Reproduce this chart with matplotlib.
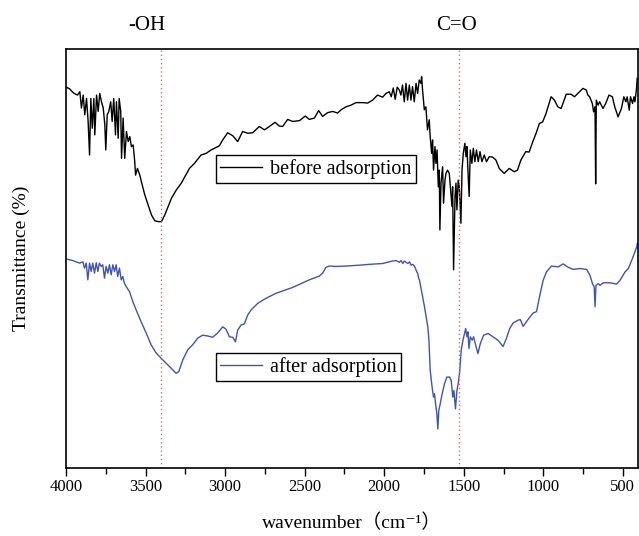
import matplotlib
matplotlib.use("Agg")
import matplotlib.pyplot as plt
from matplotlib.ticker import MultipleLocator, NullLocator

plt.rcParams['font.family'] = ['Liberation Serif', 'Noto Sans CJK SC', 'DejaVu Sans']

# ---- data (wavenumber in cm-1, transmittance in arbitrary %) ----
before_wn = [
    4000, 3978, 3953, 3928, 3913, 3903, 3892, 3882, 3871, 3861,
    3852, 3844, 3835, 3825, 3819, 3808, 3798, 3788, 3777, 3766,
    3756, 3750, 3741, 3731, 3719, 3710, 3700, 3689, 3683, 3672,
    3666, 3656, 3651, 3641, 3631, 3620, 3609, 3599, 3589, 3578,
    3568, 3563, 3551, 3536, 3526, 3505, 3484, 3463, 3442, 3421,
    3400, 3379, 3358, 3337, 3306, 3275, 3224, 3193, 3151, 3119,
    3088, 3036, 3015, 2984, 2952, 2921, 2890, 2858, 2827, 2785,
    2753, 2722, 2686, 2659, 2638, 2607, 2575, 2533, 2496, 2471,
    2439, 2412, 2387, 2356, 2324, 2293, 2271, 2240, 2209, 2177,
    2136, 2104, 2073, 2042, 2010, 1989, 1968, 1956, 1943, 1931,
    1918, 1905, 1895, 1885, 1874, 1863, 1853, 1842, 1832, 1822,
    1811, 1800, 1790, 1780, 1769, 1765, 1759, 1748, 1738, 1728,
    1717, 1711, 1702, 1696, 1690, 1681, 1675, 1668, 1660, 1654,
    1650, 1643, 1633, 1627, 1618, 1612, 1602, 1591, 1581, 1574,
    1570, 1564, 1555, 1549, 1543, 1535, 1528, 1518, 1511, 1503,
    1493, 1486, 1480, 1472, 1466, 1459, 1449, 1440, 1430, 1420,
    1409, 1398, 1386, 1371, 1357, 1340, 1319, 1298, 1277, 1246,
    1214, 1183, 1162, 1141, 1110, 1089, 1067, 1046, 1025, 1004,
    983, 951, 930, 909, 888, 873, 856, 825, 804, 783,
    751, 730, 720, 709, 692, 684, 675, 671, 667, 656,
    646, 625, 608, 587, 566, 551, 530, 509, 494, 481,
    473, 460, 452, 439, 430, 424, 414, 410,
]
before_T = [
    90.9, 90.5, 89.5, 89.0, 89.8, 85.9, 89.0, 84.3, 88.2, 82.7,
    74.7, 88.2, 81.1, 88.2, 79.5, 89.0, 85.1, 89.4, 87.4, 85.9,
    81.9, 75.9, 84.3, 85.1, 87.4, 82.7, 88.2, 79.5, 87.4, 78.7,
    88.2, 85.1, 73.9, 83.5, 73.9, 80.3, 77.9, 79.1, 76.7, 77.1,
    73.1, 69.9, 71.5, 69.9, 68.3, 65.2, 62.8, 60.4, 59.0, 58.8,
    58.8, 60.4, 62.4, 64.4, 66.4, 68.0, 71.5, 72.7, 74.7, 75.1,
    75.9, 76.9, 78.3, 80.0, 79.3, 77.9, 80.3, 79.9, 80.0, 81.5,
    80.7, 81.5, 82.5, 81.6, 81.5, 83.2, 82.7, 82.9, 84.0, 83.2,
    83.5, 85.3, 83.9, 84.8, 85.1, 84.7, 85.5, 86.2, 86.6, 87.2,
    87.2, 87.1, 87.8, 89.0, 88.5, 89.4, 89.8, 88.6, 90.7, 88.0,
    90.9, 90.2, 89.0, 91.4, 87.4, 91.8, 87.8, 91.4, 87.8, 91.0,
    87.4, 91.8, 89.4, 92.6, 91.8, 93.4, 90.2, 85.5, 86.2, 80.7,
    83.1, 79.1, 75.1, 78.3, 71.1, 76.7, 72.7, 75.9, 67.1, 71.1,
    56.8, 68.0, 71.9, 63.2, 68.7, 70.3, 71.1, 70.3, 65.6, 62.4,
    67.1, 47.3, 64.8, 68.0, 61.6, 68.7, 67.1, 58.4, 71.1, 75.1,
    77.5, 74.3, 76.7, 69.5, 64.8, 75.9, 72.7, 76.3, 73.1, 75.9,
    73.1, 75.5, 73.1, 74.7, 73.1, 74.3, 74.2, 73.5, 71.5, 70.3,
    71.5, 70.7, 71.1, 73.5, 75.5, 75.4, 77.8, 79.8, 82.2, 82.6,
    84.6, 88.6, 87.8, 86.2, 85.8, 87.4, 89.2, 89.2, 88.6, 89.4,
    90.6, 90.2, 89.0, 88.6, 87.0, 85.0, 86.2, 67.8, 87.8, 86.6,
    87.4, 85.8, 87.0, 89.0, 88.6, 86.2, 83.8, 85.8, 88.6, 87.4,
    88.6, 85.4, 88.6, 87.0, 88.6, 87.4, 90.6, 93.0,
]

after_wn = [
    4000, 3957, 3915, 3894, 3884, 3873, 3863, 3852, 3842, 3832,
    3821, 3810, 3800, 3790, 3779, 3769, 3758, 3748, 3737, 3727,
    3716, 3706, 3695, 3685, 3675, 3664, 3653, 3643, 3633, 3622,
    3601, 3580, 3559, 3528, 3496, 3465, 3433, 3402, 3371, 3339,
    3308, 3291, 3266, 3235, 3204, 3172, 3141, 3109, 3078, 3047,
    3015, 2994, 2973, 2952, 2935, 2921, 2900, 2879, 2858, 2837,
    2795, 2743, 2680, 2575, 2471, 2408, 2387, 2366, 2345, 2303,
    2240, 2157, 2094, 2010, 1967, 1947, 1925, 1905, 1894, 1883,
    1873, 1852, 1841, 1831, 1820, 1810, 1795, 1789, 1783, 1778,
    1768, 1758, 1747, 1736, 1726, 1719, 1711, 1699, 1690, 1684,
    1677, 1669, 1663, 1657, 1648, 1636, 1621, 1606, 1589, 1579,
    1569, 1562, 1552, 1543, 1535, 1527, 1516, 1505, 1488, 1480,
    1474, 1467, 1459, 1447, 1438, 1425, 1411, 1396, 1375, 1347,
    1316, 1285, 1253, 1232, 1211, 1190, 1158, 1144, 1127, 1106,
    1085, 1064, 1043, 1022, 1001, 980, 949, 907, 875, 844,
    812, 770, 728, 707, 691, 680, 675, 669, 655, 644,
    623, 581, 539, 518, 486, 466, 444, 424, 413, 408,
]
after_T = [
    49.9, 49.5, 48.9, 49.2, 47.7, 48.9, 44.9, 48.9, 46.9, 48.9,
    46.5, 49.0, 46.9, 48.9, 48.1, 48.5, 45.3, 48.1, 46.5, 48.5,
    46.1, 48.5, 46.9, 48.5, 45.7, 47.7, 44.9, 45.7, 44.1, 43.3,
    42.1, 39.7, 37.7, 34.9, 32.2, 29.4, 27.4, 26.2, 25.0, 23.8,
    22.6, 23.0, 25.8, 28.2, 29.4, 31.0, 31.7, 31.5, 31.2, 32.2,
    33.7, 33.1, 31.3, 31.2, 30.1, 32.9, 34.1, 34.4, 36.5, 37.7,
    39.3, 40.5, 41.7, 43.1, 44.9, 45.8, 46.5, 47.9, 48.2, 48.1,
    48.2, 48.4, 48.6, 48.8, 49.2, 49.4, 49.5, 49.1, 49.5, 48.8,
    49.4, 48.8, 49.2, 48.4, 48.6, 48.2, 46.8, 46.4, 45.2, 44.8,
    42.8, 40.8, 38.5, 36.0, 33.7, 30.5, 23.3, 19.3, 16.9, 17.7,
    15.3, 12.9, 9.3, 13.7, 15.3, 17.7, 20.1, 21.7, 21.7, 20.9,
    16.9, 18.5, 14.1, 18.5, 20.1, 22.5, 28.1, 30.5, 33.3, 31.3,
    32.5, 28.5, 31.3, 30.5, 31.3, 29.3, 27.3, 29.7, 31.7, 32.1,
    31.3, 30.5, 29.0, 30.9, 33.3, 34.6, 35.3, 35.4, 33.8, 34.9,
    36.0, 37.0, 37.3, 41.2, 44.8, 46.8, 48.2, 48.0, 48.7, 47.9,
    47.4, 47.6, 47.4, 46.0, 44.0, 43.2, 38.5, 43.6, 44.0, 43.6,
    44.2, 44.2, 43.9, 44.8, 46.8, 47.6, 49.6, 51.6, 52.8, 53.7,
]

series_labels = ["before adsorption", "after adsorption"]
marker_wn = [3400, 1530]
marker_labels = ["-OH", "C=O"]
marker_label_x = [3490, 1547]
xtick_values = [4000, 3500, 3000, 2500, 2000, 1500, 1000, 500]

# ---- figure ----
fig = plt.figure(figsize=(6.39, 5.36), dpi=100)
ax = fig.add_axes([0.1033, 0.1269, 0.8951, 0.7817])

ln_before, = ax.plot(before_wn, before_T, color='black', lw=1.0)
ln_after, = ax.plot(after_wn, after_T, color='#3f54b5', lw=1.0)

for w in marker_wn:
    ax.axvline(w, color='#ff5a5a', lw=1.0, ls=(0, (1, 2)))

trans = ax.get_xaxis_transform()
for xl, lab in zip(marker_label_x, marker_labels):
    ax.text(xl, 1.057, lab, transform=trans, ha='center', va='center',
            fontsize=15, clip_on=False)

ax.set_xlim(4000, 405)
ax.set_ylim(0, 100)
ax.set_xticks(xtick_values)
ax.set_xticklabels([str(v) for v in xtick_values], fontsize=12)
ax.xaxis.set_minor_locator(MultipleLocator(250))
ax.yaxis.set_major_locator(NullLocator())
ax.tick_params(axis='x', which='major', direction='out', length=6, width=1.0, pad=2, top=False)
ax.tick_params(axis='x', which='minor', direction='out', length=4, width=1.0, top=False)

for sp in ax.spines.values():
    sp.set_linewidth(1.2)

ax.set_xlabel('wavenumber（cm⁻¹）', fontsize=14, labelpad=13)
ax.set_ylabel('Transmittance (%)', fontsize=14, labelpad=26)

leg_kw = dict(frameon=True, fancybox=False, edgecolor='black', framealpha=1,
              fontsize=14.5, handlelength=2.1, handletextpad=0.4,
              borderpad=0.2, borderaxespad=0, loc='upper left')
leg1 = ax.legend([ln_before], [series_labels[0]], bbox_to_anchor=(0.262, 0.747), **leg_kw)
leg1.get_frame().set_linewidth(1.0)
ax.add_artist(leg1)
leg2 = ax.legend([ln_after], [series_labels[1]], bbox_to_anchor=(0.262, 0.274), **leg_kw)
leg2.get_frame().set_linewidth(1.0)

fig.savefig('out.png', dpi=100)
